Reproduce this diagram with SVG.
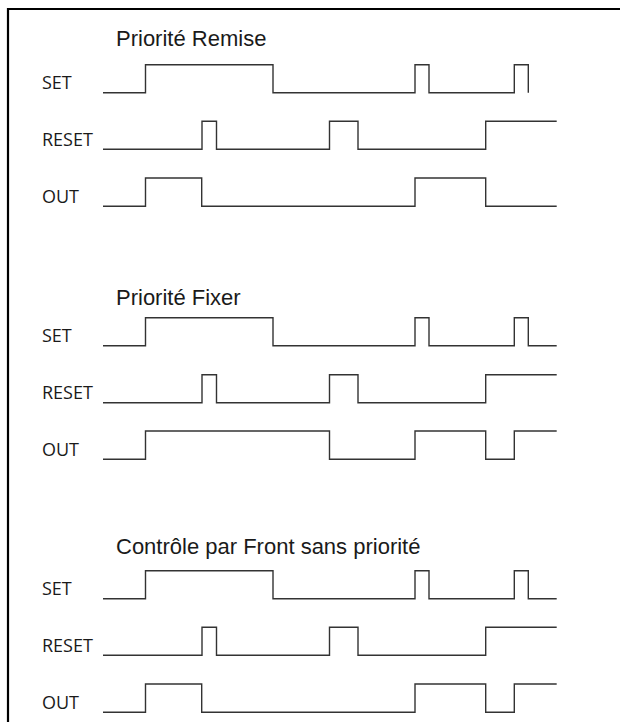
<svg xmlns="http://www.w3.org/2000/svg" width="620" height="722" viewBox="0 0 620 722">
<style>
.title{font-family:"Liberation Sans",Arial,sans-serif;font-size:22px;fill:#1a1a1a}
.lbl{font-family:"Open Sans","Noto Sans",sans-serif;font-size:18px;fill:#1a1a1a}
.wave{fill:none;stroke:#333;stroke-width:1.4}
.frame{fill:none;stroke:#000;stroke-width:2.2}
</style>
<rect width="620" height="722" fill="#fff"/>
<g id="frame">
<path class="frame" d="M8,722 V9 H620"/>
</g>
<g id="panel-remise">
<text class="title" x="116" y="46">Priorité Remise</text>
<text class="lbl" x="42" y="89">SET</text>
<text class="lbl" x="42" y="145.5">RESET</text>
<text class="lbl" x="42" y="202.5">OUT</text>
</g>
<g id="panel-fixer">
<text class="title" x="116" y="305">Priorité Fixer</text>
<text class="lbl" x="42" y="342">SET</text>
<text class="lbl" x="42" y="398.8">RESET</text>
<text class="lbl" x="42" y="455.8">OUT</text>
</g>
<g id="panel-front">
<text class="title" x="116" y="554">Contrôle par Front sans priorité</text>
<text class="lbl" x="42" y="595">SET</text>
<text class="lbl" x="42" y="651.8">RESET</text>
<text class="lbl" x="42" y="709">OUT</text>
</g>
<g id="connectors">
<path class="wave" d="M103,92.7 H145.5 V64.7 H273 V92.7 H415 V64.7 H429 V92.7 H514.3 V64.7 H528.3 V92.7"/>
<path class="wave" d="M103,149.3 H202 V121.3 H216.5 V149.3 H329.5 V121.3 H358 V149.3 H485.7 V121.3 H556.7"/>
<path class="wave" d="M103,206.3 H145.5 V178 H201.7 V206.3 H415 V178 H485.7 V206.3 H556.7"/>
<path class="wave" d="M103,345.7 H145.5 V317.7 H273 V345.7 H415 V317.7 H429 V345.7 H514.3 V317.7 H528.3 V345.7 H556.7"/>
<path class="wave" d="M103,402.7 H202 V374.7 H216.5 V402.7 H329.5 V374.7 H358 V402.7 H485.7 V374.7 H556.7"/>
<path class="wave" d="M103,459.3 H145.5 V431 H329.5 V459.3 H415 V431 H485.7 V459.3 H514.3 V431 H556.7"/>
<path class="wave" d="M103,598.7 H145.5 V570.7 H273 V598.7 H415 V570.7 H429 V598.7 H514.3 V570.7 H528.3 V598.7 H556.7"/>
<path class="wave" d="M103,655.3 H202 V627.3 H216.5 V655.3 H329.5 V627.3 H358 V655.3 H485.7 V627.3 H556.7"/>
<path class="wave" d="M103,712.3 H145.5 V684 H201.7 V712.3 H415 V684 H485.7 V712.3 H514.3 V684 H556.7"/>
</g>
</svg>
